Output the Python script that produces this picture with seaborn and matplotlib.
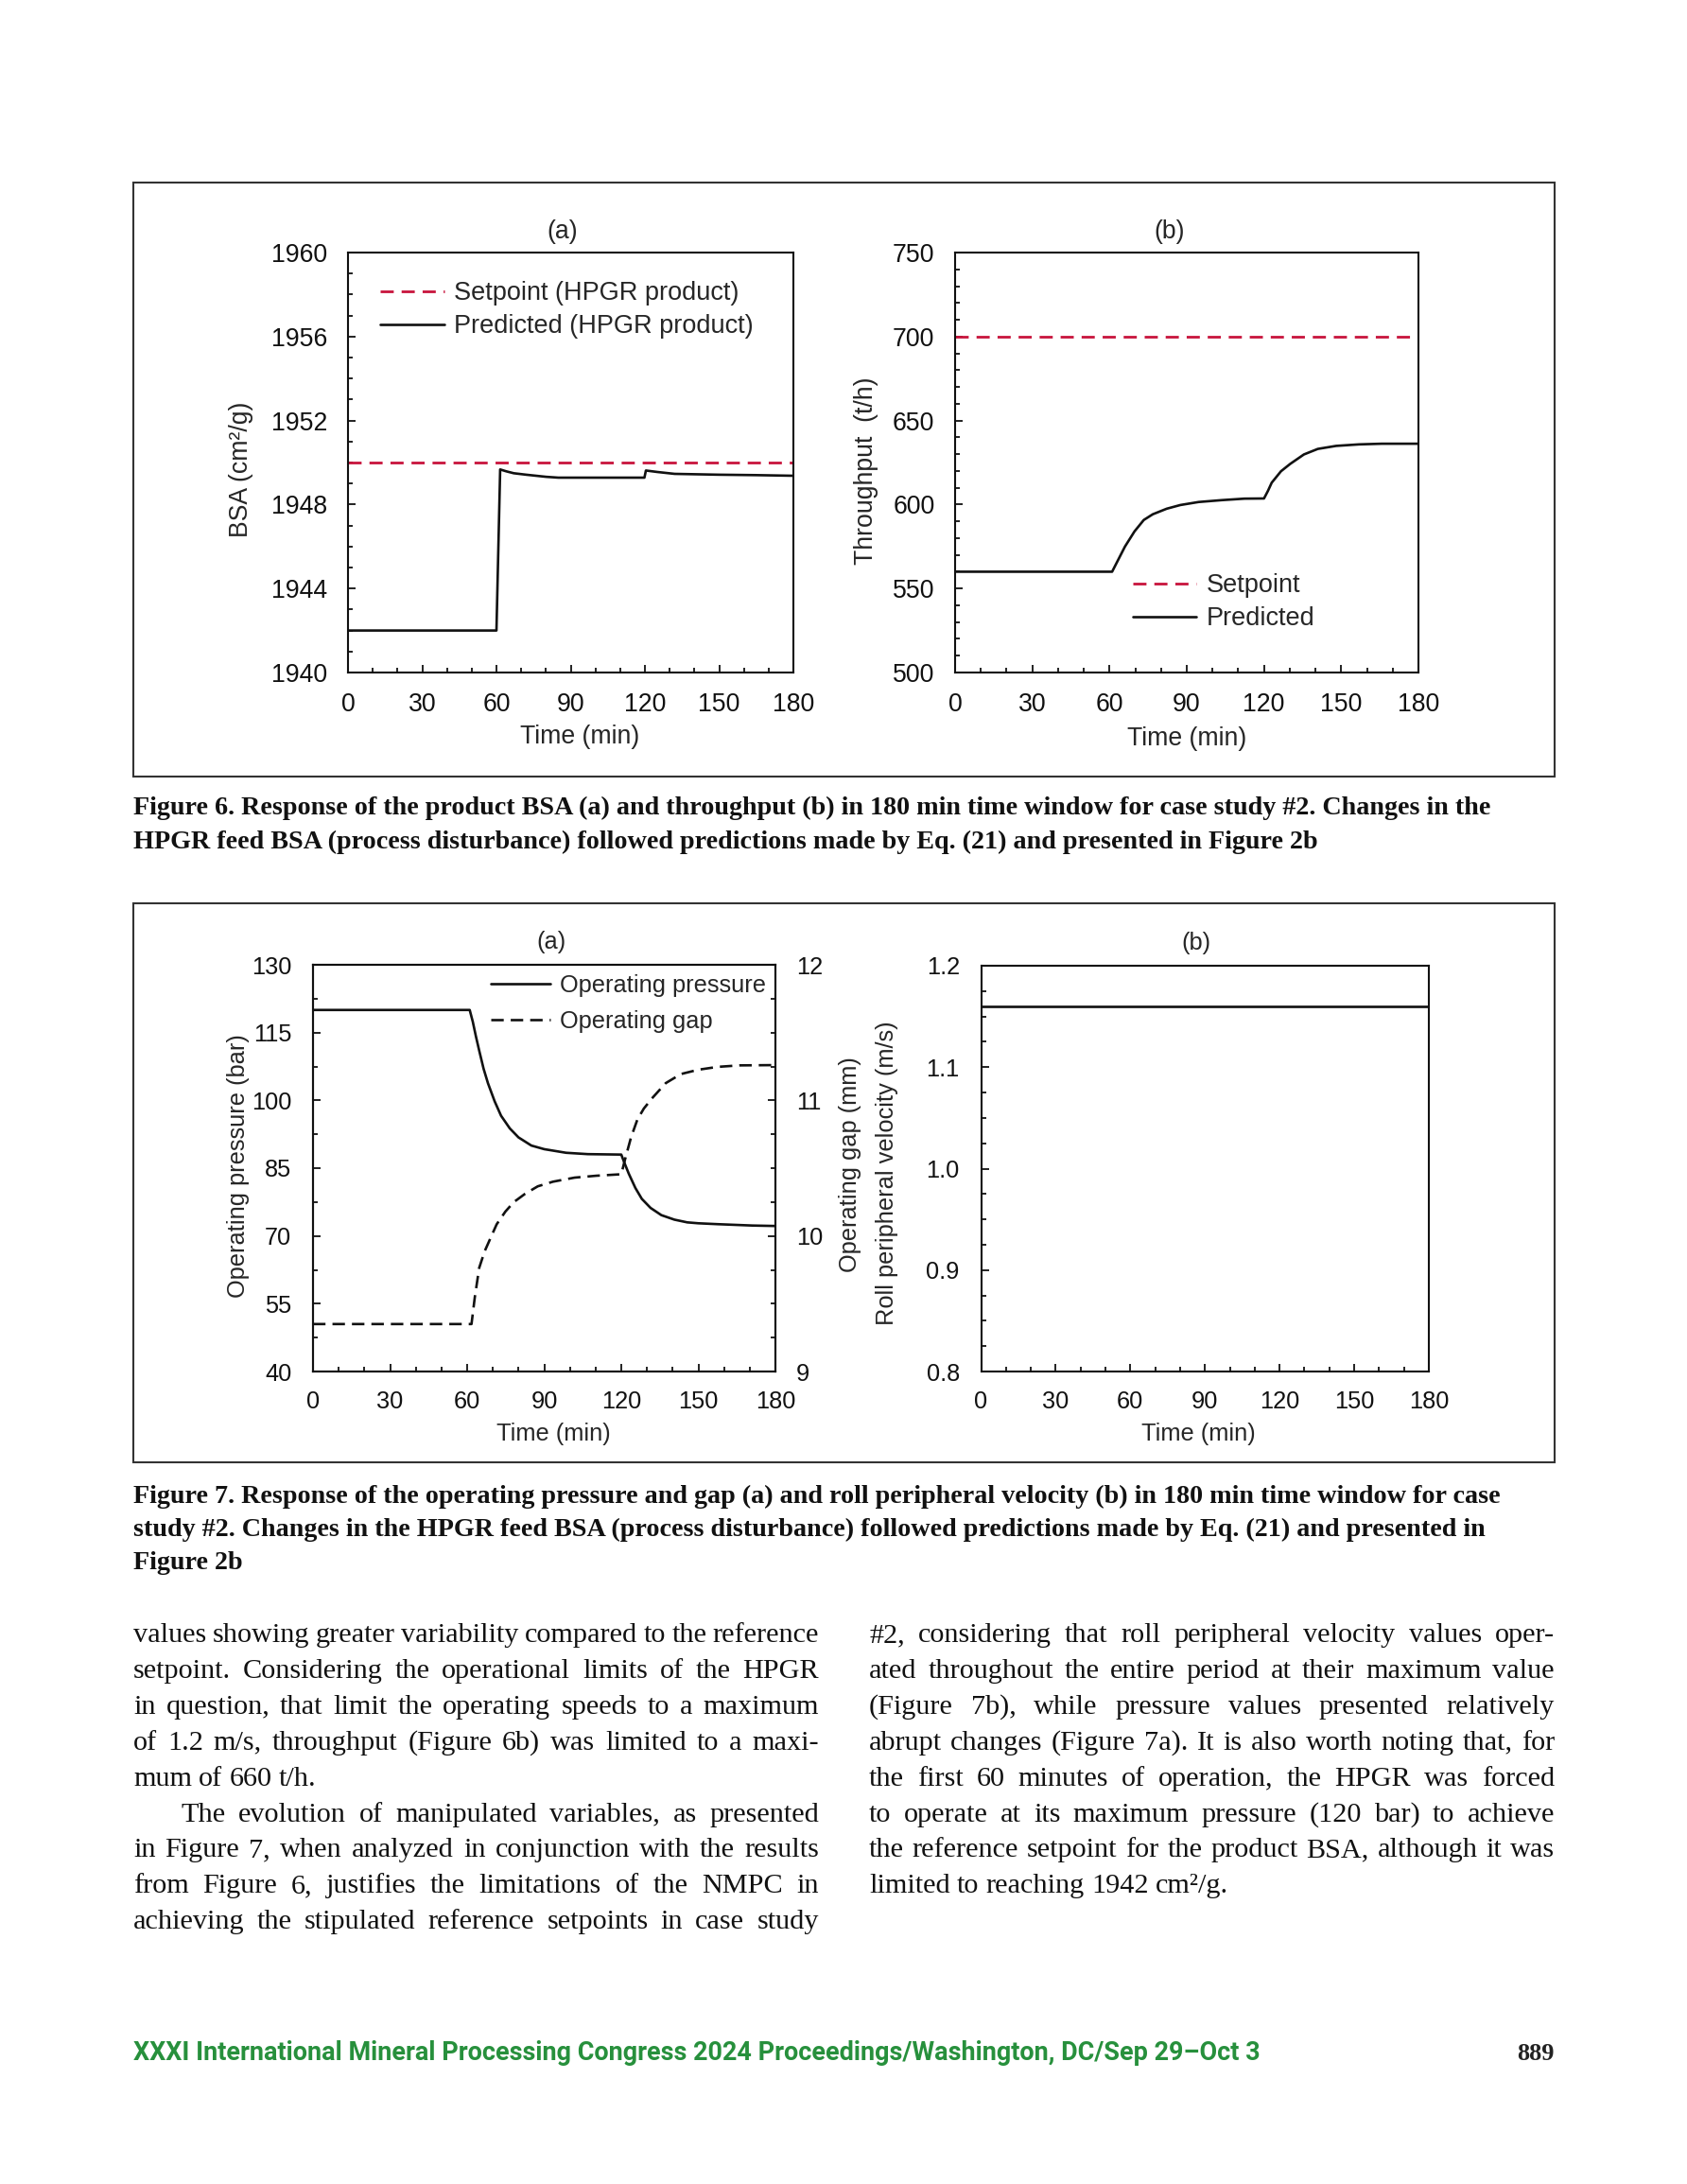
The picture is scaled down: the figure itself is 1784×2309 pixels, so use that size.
import matplotlib
matplotlib.use("Agg")
import matplotlib.pyplot as plt
import seaborn as sns
from matplotlib import font_manager
from matplotlib.patches import Rectangle
from matplotlib.ticker import MultipleLocator, FormatStrFormatter

# ---- Figure 6a: product BSA
bsa_time = [0, 60, 61.5, 64, 67, 72, 76, 80, 85, 100, 119.8, 120.4, 125, 132, 150, 165, 180]
bsa_pred = [1942, 1942, 1949.67, 1949.58, 1949.49, 1949.42, 1949.37, 1949.32, 1949.28, 1949.28,
            1949.28, 1949.62, 1949.55, 1949.46, 1949.42, 1949.40, 1949.37]
bsa_setpoint = 1950

# ---- Figure 6b: throughput
tp_time = [0, 61, 63, 66, 69.7, 73.3, 76.8, 82.2, 87.5, 94.6, 103.5, 112.4, 120, 121.5, 123,
           126.6, 130.2, 135.5, 140.9, 148, 156.9, 165.8, 180]
tp_pred = [560, 560, 566, 575, 584, 590.8, 594.2, 597.5, 599.7, 601.5, 602.6, 603.5, 603.6, 608,
           613, 619.8, 624.2, 629.8, 633.1, 634.9, 635.8, 636.2, 636.2]
tp_setpoint = 700

# ---- Figure 7a: operating pressure and gap
p_time = [0, 61, 62.2, 63.4, 64.7, 66.4, 68.1, 70.7, 73.2, 76.6, 80, 85, 90, 98.5, 107, 120,
          121.2, 122.9, 125.5, 128, 131.4, 135.6, 140.7, 145.7, 150, 157.6, 171, 180]
pressure = [120, 120, 117.4, 114.2, 111.0, 107.0, 103.8, 99.8, 96.6, 93.8, 91.8, 90.0, 89.2, 88.4,
            88.1, 88.0, 86.2, 83.8, 80.6, 78.2, 76.2, 74.6, 73.6, 73.0, 72.8, 72.6, 72.3, 72.2]
g_time = [0, 61.7, 63, 64.7, 66.8, 69, 71.5, 74.9, 78.2, 82.5, 87.5, 93.4, 101.8, 110.3, 120,
          121.5, 123.8, 126.3, 128.8, 132.2, 137.3, 143.2, 150, 157.5, 166, 180]
gap = [9.35, 9.35, 9.55, 9.765, 9.886, 9.98, 10.086, 10.18, 10.25, 10.31, 10.366, 10.40, 10.43,
       10.444, 10.455, 10.567, 10.727, 10.86, 10.94, 11.02, 11.127, 11.194, 11.226, 11.247,
       11.258, 11.26]
pressure_ticks = [40, 55, 70, 85, 100, 115, 130]
gap_ticks = [9, 10, 11, 12]

# ---- Figure 7b: roll peripheral velocity
v_time = [0, 180]
velocity = [1.16, 1.16]

caption6 = [
    "Figure 6. Response of the product BSA (a) and throughput (b) in 180 min time window for case study #2. Changes in the",
    "HPGR feed BSA (process disturbance) followed predictions made by Eq. (21) and presented in Figure 2b",
]
caption7 = [
    "Figure 7. Response of the operating pressure and gap (a) and roll peripheral velocity (b) in 180 min time window for case",
    "study #2. Changes in the HPGR feed BSA (process disturbance) followed predictions made by Eq. (21) and presented in",
    "Figure 2b",
]
left_col = [
    ("values showing greater variability compared to the reference", True),
    ("setpoint. Considering the operational limits of the HPGR", True),
    ("in question, that limit the operating speeds to a maximum", True),
    ("of 1.2 m/s, throughput (Figure 6b) was limited to a maxi-", True),
    ("mum of 660 t/h.", False),
    ("The evolution of manipulated variables, as presented", True),
    ("in Figure 7, when analyzed in conjunction with the results", True),
    ("from Figure 6, justifies the limitations of the NMPC in", True),
    ("achieving the stipulated reference setpoints in case study", True),
]
right_col = [
    ("#2, considering that roll peripheral velocity values oper-", True),
    ("ated throughout the entire period at their maximum value", True),
    ("(Figure 7b), while pressure values presented relatively", True),
    ("abrupt changes (Figure 7a). It is also worth noting that, for", True),
    ("the first 60 minutes of operation, the HPGR was forced", True),
    ("to operate at its maximum pressure (120 bar) to achieve", True),
    ("the reference setpoint for the product BSA, although it was", True),
    ("limited to reaching 1942 cm²/g.", False),
]
footer = "XXXI International Mineral Processing Congress 2024 Proceedings/Washington, DC/Sep 29–Oct 3"
page_no = "889"

RED = "#c8143c"
INK = "#111111"
GREEN = "#27903c"

sns.set_theme(style="ticks", rc={"axes.facecolor": "white", "figure.facecolor": "white"})
plt.rcParams["font.family"] = ["Liberation Sans", "DejaVu Sans"]

installed = {f.name for f in font_manager.fontManager.ttflist}
narrow = "Liberation Sans Narrow" if "Liberation Sans Narrow" in installed else "Roboto"
serif = ["Liberation Serif", "DejaVu Serif"]

W, H = 1784, 2309
fig = plt.figure(figsize=(W / 100, H / 100), dpi=100)
renderer = fig.canvas.get_renderer()

FS6 = 19.2   # chart text, figure 6
FS7 = 18.3   # chart text, figure 7


def add_axes(l, t, r, b):
    return fig.add_axes([l / W, 1 - b / H, (r - l) / W, (b - t) / H])


def style_axes(ax, fs, padx, pady):
    for s in ax.spines.values():
        s.set_linewidth(1.5)
        s.set_color(INK)
    ax.tick_params(which="both", direction="in", color=INK, width=1.3)
    ax.tick_params(which="major", length=6, labelsize=fs, labelcolor=INK)
    ax.tick_params(which="minor", length=3.5)
    ax.tick_params(axis="x", which="major", pad=padx)
    ax.tick_params(axis="y", which="major", pad=pady)


def box(t, b):
    fig.add_artist(Rectangle((141 / W, 1 - b / H), (1644 - 141) / W, (b - t) / H,
                             transform=fig.transFigure, fill=False, ec="#333333", lw=1.5))


def word_widths(line, fs, **kw):
    arts = [fig.text(0, 0, w, fontsize=fs, va="baseline", ha="left", **kw) for w in line.split()]
    return arts, [a.get_window_extent(renderer).width for a in arts]


def text_line(x0, x1, y, line, justify, fs, **kw):
    arts, widths = word_widths(line, fs, **kw)
    if justify and len(arts) > 1:
        space = (x1 - x0 - sum(widths)) / (len(arts) - 1)
    else:
        space = fs * 100 / 72 * 0.24
    x = x0
    for a, w in zip(arts, widths):
        a.set_position((x / W, 1 - y / H))
        x += w + space


def body_size(lines, col_w, fs, **kw):
    # largest size at which every justified line still fits with a tight word space
    scale = 10.0
    for line, just in lines:
        if not just:
            continue
        arts, widths = word_widths(line, fs, **kw)
        for a in arts:
            a.remove()
        natural = sum(widths) + (len(widths) - 1) * fs * 100 / 72 * 0.2
        scale = min(scale, col_w / natural)
    return fs * scale


def fitted_size(s, width, fs, **kw):
    t = fig.text(0, 0, s, fontsize=fs, **kw)
    w = t.get_window_extent(renderer).width
    t.remove()
    return fs * width / w


line_kw = dict(sort=False, estimator=None, color=INK, linewidth=1.9)
leg6 = dict(loc="upper left", frameon=False, fontsize=FS6 + 0.3, handlelength=2.5,
            handletextpad=0.4, labelspacing=0.33, borderpad=0, borderaxespad=0)

# ================= Figure 6 =================
box(193, 821)

ax = add_axes(368, 267, 839, 711)
sns.lineplot(x=[bsa_time[0], bsa_time[-1]], y=[bsa_setpoint] * 2, ax=ax, sort=False, estimator=None,
             color=RED, linewidth=2.0, linestyle=(0, (5, 3)), label="Setpoint (HPGR product)")
sns.lineplot(x=bsa_time, y=bsa_pred, ax=ax, label="Predicted (HPGR product)", **line_kw)
ax.set_xlim(0, 180)
ax.set_ylim(1940, 1960)
ax.xaxis.set_major_locator(MultipleLocator(30))
ax.xaxis.set_minor_locator(MultipleLocator(10))
ax.yaxis.set_major_locator(MultipleLocator(4))
ax.yaxis.set_minor_locator(MultipleLocator(1))
style_axes(ax, FS6, 15, 15.5)
ax.set_xlabel("Time (min)", fontsize=FS6, va="center")
ax.xaxis.set_label_coords(0.52, -0.153)
ax.set_ylabel("BSA (cm²/g)", fontsize=FS6, va="center")
ax.yaxis.set_label_coords(-0.24, 0.484)
ax.text(0.481, 1.049, "(a)", transform=ax.transAxes, ha="center", va="center", fontsize=FS6)
ax.legend(bbox_to_anchor=(0.072, 0.932), **leg6)

ax = add_axes(1010, 267, 1500, 711)
sns.lineplot(x=[tp_time[0], tp_time[-1]], y=[tp_setpoint] * 2, ax=ax, sort=False, estimator=None,
             color=RED, linewidth=2.0, linestyle=(0, (5, 3)), label="Setpoint")
sns.lineplot(x=tp_time, y=tp_pred, ax=ax, label="Predicted", **line_kw)
ax.set_xlim(0, 180)
ax.set_ylim(500, 750)
ax.xaxis.set_major_locator(MultipleLocator(30))
ax.xaxis.set_minor_locator(MultipleLocator(10))
ax.yaxis.set_major_locator(MultipleLocator(50))
ax.yaxis.set_minor_locator(MultipleLocator(10))
style_axes(ax, FS6, 15, 15.5)
ax.set_xlabel("Time (min)", fontsize=FS6, va="center")
ax.xaxis.set_label_coords(0.5, -0.158)
ax.set_ylabel("Throughput  (t/h)", fontsize=FS6, va="center")
ax.yaxis.set_label_coords(-0.191, 0.48)
ax.text(0.463, 1.05, "(b)", transform=ax.transAxes, ha="center", va="center", fontsize=FS6)
ax.legend(bbox_to_anchor=(0.383, 0.236), **leg6)

# ================= Figure 7 =================
box(955, 1546)

ax = add_axes(331, 1020, 820, 1450)
ax2 = ax.twinx()
sns.lineplot(x=p_time, y=pressure, ax=ax, label="Operating pressure", **line_kw)
sns.lineplot(x=g_time, y=gap, ax=ax2, sort=False, estimator=None, color=INK, linewidth=1.9,
             linestyle=(0, (5, 2.8)), label="Operating gap")
ax.set_xlim(0, 180)
ax.set_ylim(pressure_ticks[0], pressure_ticks[-1])
ax2.set_ylim(gap_ticks[0], gap_ticks[-1])
ax.xaxis.set_major_locator(MultipleLocator(30))
ax.xaxis.set_minor_locator(MultipleLocator(10))
ax.set_yticks(pressure_ticks)
ax.yaxis.set_minor_locator(MultipleLocator(7.5, offset=40))
ax2.set_yticks(gap_ticks)
ax2.yaxis.set_minor_locator(MultipleLocator(0.25))
style_axes(ax, FS7, 14.5, 16.3)
style_axes(ax2, FS7, 14.5, 16)
ax.set_xlabel("Time (min)", fontsize=FS7, va="center")
ax.xaxis.set_label_coords(0.52, -0.153)
ax.set_ylabel("Operating pressure (bar)", fontsize=FS7, va="center")
ax.yaxis.set_label_coords(-0.161, 0.505)
ax2.set_ylabel("Operating gap (mm)", fontsize=FS7, va="center", rotation=90)
ax2.yaxis.set_label_coords(1.162, 0.51)
ax.text(0.515, 1.056, "(a)", transform=ax.transAxes, ha="center", va="center", fontsize=FS7)
h1, l1 = ax.get_legend_handles_labels()
h2, l2 = ax2.get_legend_handles_labels()
if ax.get_legend() is not None:
    ax.get_legend().remove()
ax2.legend(h1 + h2, l1 + l2, loc="upper left", bbox_to_anchor=(0.384, 0.977), frameon=False,
           fontsize=FS7, handlelength=2.5, handletextpad=0.4, labelspacing=0.55, borderpad=0,
           borderaxespad=0)

ax = add_axes(1037.5, 1021, 1511, 1450)
sns.lineplot(x=v_time, y=velocity, ax=ax, **line_kw)
ax.set_xlim(0, 180)
ax.set_ylim(0.8, 1.2)
ax.xaxis.set_major_locator(MultipleLocator(30))
ax.xaxis.set_minor_locator(MultipleLocator(10))
ax.yaxis.set_major_locator(MultipleLocator(0.1))
ax.yaxis.set_minor_locator(MultipleLocator(0.025))
ax.yaxis.set_major_formatter(FormatStrFormatter("%.1f"))
style_axes(ax, FS7, 14.5, 16.3)
ax.set_xlabel("Time (min)", fontsize=FS7, va="center")
ax.xaxis.set_label_coords(0.486, -0.153)
ax.set_ylabel("Roll peripheral velocity (m/s)", fontsize=FS7, va="center")
ax.yaxis.set_label_coords(-0.21, 0.49)
ax.text(0.48, 1.056, "(b)", transform=ax.transAxes, ha="center", va="center", fontsize=FS7)

# ================= Captions, body text, footer =================
cap_fs = fitted_size(caption6[0], 1578 - 141, 18, family=serif, weight="bold")
for i, line in enumerate(caption6):
    fig.text(141 / W, 1 - (861 + 35.5 * i) / H, line, fontsize=cap_fs, family=serif,
             weight="bold", va="baseline", color=INK)
for i, line in enumerate(caption7):
    fig.text(141 / W, 1 - (1589 + 35 * i) / H, line, fontsize=cap_fs, family=serif,
             weight="bold", va="baseline", color=INK)

body_fs = body_size(left_col + right_col, 866 - 141, 18, family=serif)
for i, (line, just) in enumerate(left_col):
    x0 = 191.5 if i == 5 else 141
    text_line(x0, 866, 1736 + 37.9 * i, line, just, body_fs, family=serif, color=INK)
for i, (line, just) in enumerate(right_col):
    text_line(919, 1644, 1736 + 37.9 * i, line, just, body_fs, family=serif, color=INK)

foot_fs = fitted_size(footer, 1332 - 141, 17, family=narrow, weight="bold")
fig.text(141 / W, 1 - 2178 / H, footer, fontsize=foot_fs, family=narrow, weight="bold",
         color=GREEN, va="baseline")
fig.text(1644 / W, 1 - 2178 / H, page_no, fontsize=19, family=serif, weight="bold",
         color="#222222", va="baseline", ha="right")

fig.savefig("out.png", dpi=100, facecolor="white")
